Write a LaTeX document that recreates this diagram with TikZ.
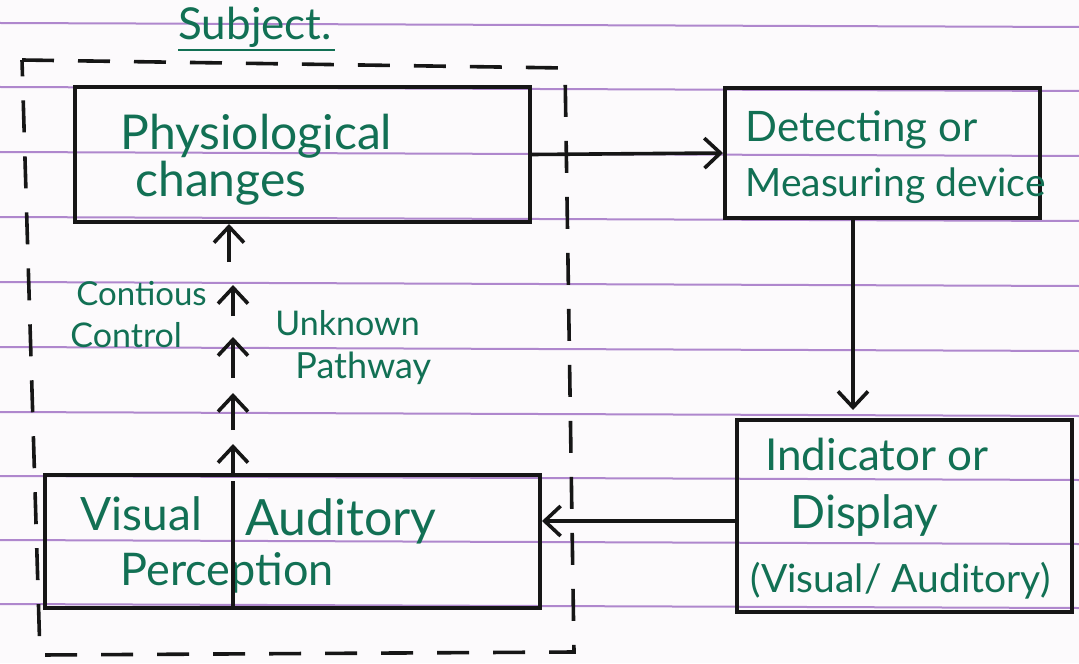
\documentclass[tikz,border=0pt]{standalone}
\usepackage{fontspec}
\setmainfont{Lato}
\usetikzlibrary{arrows.meta}
\definecolor{ink}{RGB}{18,112,84}
\definecolor{pen}{RGB}{22,22,22}
\definecolor{rule}{RGB}{175,135,205}
\definecolor{paper}{RGB}{252,250,252}
\tikzset{
  box/.style={draw=pen, line width=2pt, rectangle, inner sep=0pt},
  conn/.style={draw=pen, line width=1.8pt, -{Straight Barb[length=8pt,width=15pt,line width=1.8pt]}},
  hw/.style={text=ink, inner sep=0pt, anchor=base west},
  ruling/.style={draw=rule, line width=1pt},
  bound/.style={draw=pen, line width=1.8pt, dash pattern=on 16pt off 12pt}
}
\newcommand{\hwsize}[1]{\fontsize{#1}{#1}\selectfont}
\begin{document}
\begin{tikzpicture}[x=0.5pt,y=-0.5pt]
\fill[paper] (0,0) rectangle (1079,663);
\useasboundingbox (0,0) rectangle (1079,663);
% ruled paper
\foreach \yy in {23,87,152,217,282,347,412,476,540,604} {
  \draw[ruling] (0,\yy) -- (1079,\yy+4);
}
% subject boundary
\draw[bound] (22,60) -- (565,68) -- (574,652) -- (40,655) -- (22,60);
% title
\node[hw, font=\hwsize{22}] (title) at (178,40) {Subject.};
\draw[draw=ink, line width=1.3pt] (178,50) -- (335,50);
% boxes
\node[box, minimum width=227.5pt, minimum height=67.5pt] (phys) at (302.5,154.5) {};
\node[box, minimum width=157.5pt, minimum height=65pt] (det) at (882.5,153) {};
\node[box, minimum width=167.5pt, minimum height=96pt] (ind) at (904.5,516) {};
\node[box, minimum width=247.5pt, minimum height=66.5pt] (vis) at (292.5,541.5) {};
% texts
\node[hw, font=\hwsize{24}] (phys1) at (120,150) {Physiological};
\node[hw, font=\hwsize{24}] (phys2) at (135,197) {changes};
\node[hw, font=\hwsize{21}] (det1) at (745,142) {Detecting or};
\node[hw, font=\hwsize{19.5}] (det2) at (745,197) {Measuring device};
\node[hw, font=\hwsize{22}] (ind1) at (765,470) {Indicator or};
\node[hw, font=\hwsize{23}] (ind2) at (790,528) {Display};
\node[hw, font=\hwsize{19.5}] (ind3) at (750,592) {(Visual/ Auditory)};
\node[hw, font=\hwsize{23}] (vis1) at (80,530) {Visual};
\node[hw, font=\hwsize{25}] (vis2) at (245,535) {Auditory};
\node[hw, font=\hwsize{22.5}] (vis3) at (120,585) {Perception};
\node[hw, font=\hwsize{16.5}] (cc1) at (76,305) {Contious};
\node[hw, font=\hwsize{17}] (cc2) at (70,347) {Control};
\node[hw, font=\hwsize{17}] (up1) at (275,335) {Unknown};
\node[hw, font=\hwsize{18}] (up2) at (295,378) {Pathway};
% divider inside visual box
\coordinate (dv) at (233,0);
\draw[draw=pen, line width=1.6pt] ([yshift=-4pt]vis.north -| dv) -- (vis.south -| dv);
% main connectors
\draw[conn] (phys.east) -- (det.west);
\coordinate (dx) at (853,0);
\draw[conn] (det.south -| dx) -- ([yshift=4pt]ind.north -| dx);
\coordinate (ay) at (0,521);
\draw[conn] (ind.west |- ay) -- (vis.east |- ay);
% broken (unknown pathway) arrow chain
\coordinate (k1) at (233,430);
\coordinate (k2) at (233,393);
\coordinate (k3) at (233,378);
\coordinate (k4) at (233,337);
\coordinate (k5) at (233,316);
\coordinate (k6) at (233,285);
\coordinate (k7) at (229,262);
\draw[conn] (vis.north -| dv) -- (233,444);
\draw[conn] (k1) -- (k2);
\draw[conn] (k3) -- (k4);
\draw[conn] (k5) -- (k6);
\draw[conn] (k7) -- (phys.south -| k7);
\end{tikzpicture}
\end{document}
